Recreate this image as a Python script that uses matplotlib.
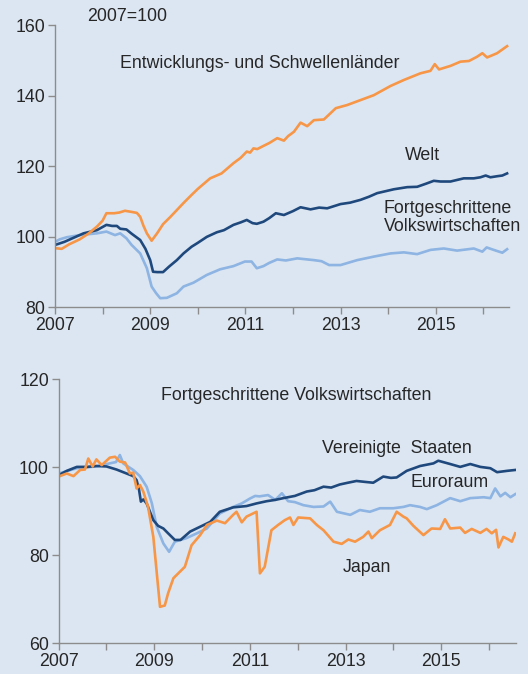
import matplotlib
matplotlib.use("Agg")
import matplotlib.pyplot as plt

plt.rcParams['font.family'] = ['Liberation Sans', 'DejaVu Sans']

# ---------------- data (index, 2007=100) ----------------
# Top panel
em_x = [2007.0, 2007.14, 2007.3, 2007.52, 2007.7, 2007.88, 2008.0, 2008.08, 2008.24, 2008.35, 2008.47, 2008.6,
        2008.72, 2008.79, 2008.86, 2008.93, 2009.03, 2009.15, 2009.27, 2009.42, 2009.56, 2009.7, 2009.87, 2010.0,
        2010.26, 2010.5, 2010.75, 2010.9, 2011.03, 2011.1, 2011.17, 2011.25, 2011.38, 2011.5, 2011.67, 2011.81,
        2011.9, 2012.02, 2012.16, 2012.3, 2012.44, 2012.65, 2012.9, 2013.14, 2013.42, 2013.7, 2014.05, 2014.33,
        2014.68, 2014.89, 2014.98, 2015.07, 2015.31, 2015.52, 2015.7, 2015.87, 2015.98, 2016.08, 2016.29, 2016.5]
em_y = [96.7, 96.5, 97.8, 99.2, 100.8, 102.8, 104.5, 106.6, 106.6, 106.8, 107.3, 107.0,
        106.7, 105.6, 103.0, 100.9, 98.8, 101.0, 103.5, 105.5, 107.5, 109.5, 111.8, 113.5,
        116.5, 117.9, 120.8, 122.3, 124.1, 123.8, 125.0, 124.8, 125.7, 126.5, 127.9, 127.2,
        128.5, 129.7, 132.3, 131.3, 133.0, 133.2, 136.4, 137.3, 138.7, 140.1, 142.7, 144.4,
        146.3, 147.0, 148.9, 147.4, 148.4, 149.6, 149.8, 151.0, 152.0, 150.8, 152.0, 154.0]

world_x = [2007.0, 2007.2, 2007.4, 2007.6, 2007.88, 2008.08, 2008.2, 2008.3, 2008.37, 2008.5, 2008.61, 2008.79,
           2008.9, 2009.0, 2009.06, 2009.15, 2009.27, 2009.4, 2009.56, 2009.7, 2009.87, 2010.0, 2010.19, 2010.4,
           2010.55, 2010.75, 2010.9, 2011.03, 2011.15, 2011.24, 2011.38, 2011.5, 2011.64, 2011.81, 2012.0, 2012.16,
           2012.37, 2012.55, 2012.72, 2013.0, 2013.2, 2013.42, 2013.6, 2013.77, 2014.12, 2014.4, 2014.61, 2014.8,
           2014.96, 2015.1, 2015.31, 2015.59, 2015.8, 2015.94, 2016.05, 2016.15, 2016.29, 2016.4, 2016.5]
world_y = [97.6, 98.5, 99.7, 100.9, 101.8, 103.3, 103.0, 103.0, 102.2, 102.0, 100.8, 99.0,
           96.5, 93.3, 90.0, 89.9, 89.9, 91.5, 93.3, 95.2, 97.1, 98.2, 99.9, 101.2,
           101.8, 103.3, 104.0, 104.7, 103.8, 103.6, 104.2, 105.2, 106.6, 106.1, 107.2, 108.3,
           107.7, 108.2, 108.0, 109.2, 109.6, 110.4, 111.3, 112.3, 113.4, 114.0, 114.1, 115.0,
           115.8, 115.6, 115.6, 116.5, 116.5, 116.8, 117.3, 116.8, 117.1, 117.3, 117.9]

adv_x = [2007.0, 2007.1, 2007.25, 2007.52, 2007.88, 2008.08, 2008.26, 2008.37, 2008.5, 2008.61, 2008.79, 2008.93,
         2009.03, 2009.12, 2009.21, 2009.35, 2009.56, 2009.7, 2009.91, 2010.19, 2010.47, 2010.75, 2010.99, 2011.13,
         2011.24, 2011.38, 2011.5, 2011.67, 2011.85, 2012.09, 2012.44, 2012.6, 2012.76, 2013.0, 2013.35, 2013.7,
         2014.05, 2014.33, 2014.61, 2014.89, 2015.17, 2015.45, 2015.8, 2015.98, 2016.07, 2016.22, 2016.4, 2016.5]
adv_y = [98.5, 99.2, 99.8, 100.4, 100.9, 101.4, 100.4, 100.9, 99.5, 97.6, 95.2, 91.0,
         85.8, 84.0, 82.5, 82.6, 83.9, 85.8, 86.9, 89.1, 90.7, 91.6, 92.9, 92.9,
         91.0, 91.6, 92.5, 93.5, 93.2, 93.8, 93.3, 93.0, 91.9, 91.9, 93.3, 94.3,
         95.2, 95.5, 95.0, 96.2, 96.6, 96.0, 96.6, 95.7, 96.9, 96.2, 95.4, 96.4]

# Bottom panel
us_x = [2007.0, 2007.17, 2007.38, 2007.59, 2007.79, 2008.0, 2008.21, 2008.42, 2008.56, 2008.63, 2008.68, 2008.72,
        2008.77, 2008.84, 2008.98, 2009.08, 2009.19, 2009.29, 2009.43, 2009.55, 2009.75, 2009.96, 2010.17, 2010.37,
        2010.65, 2010.93, 2011.14, 2011.35, 2011.53, 2011.7, 2011.94, 2012.19, 2012.35, 2012.54, 2012.7, 2012.88,
        2013.05, 2013.23, 2013.4, 2013.58, 2013.79, 2013.95, 2014.07, 2014.28, 2014.56, 2014.84, 2014.94, 2015.19,
        2015.4, 2015.61, 2015.82, 2016.03, 2016.17, 2016.38, 2016.55]
us_y = [98.2, 99.2, 100.1, 100.1, 100.3, 100.2, 99.5, 98.6, 98.0, 97.1, 95.0, 92.2,
        92.7, 91.8, 88.0, 86.7, 86.1, 85.0, 83.5, 83.5, 85.4, 86.5, 87.6, 89.9,
        90.9, 91.2, 91.8, 92.3, 92.6, 93.0, 93.5, 94.5, 94.8, 95.6, 95.4, 96.1,
        96.5, 96.9, 96.7, 96.5, 97.9, 97.6, 97.7, 99.2, 100.3, 100.9, 101.5, 100.75,
        100.1, 100.75, 100.1, 99.8, 98.9, 99.2, 99.4]

euro_x = [2007.0, 2007.38, 2007.79, 2008.07, 2008.2, 2008.28, 2008.35, 2008.56, 2008.70, 2008.84, 2008.95, 2009.05,
          2009.19, 2009.31, 2009.43, 2009.67, 2009.89, 2010.1, 2010.37, 2010.65, 2010.83, 2011.0, 2011.11, 2011.2,
          2011.38, 2011.53, 2011.67, 2011.8, 2011.94, 2012.12, 2012.33, 2012.54, 2012.68, 2012.82, 2013.1, 2013.3,
          2013.51, 2013.72, 2014.0, 2014.21, 2014.35, 2014.56, 2014.70, 2014.91, 2015.19, 2015.4, 2015.61, 2015.89,
          2016.03, 2016.13, 2016.24, 2016.34, 2016.45, 2016.55]
euro_y = [98.6, 99.8, 100.2, 100.9, 101.2, 102.8, 100.9, 99.4, 98.0, 95.6, 91.8, 86.5,
          82.7, 80.8, 83.1, 83.9, 85.0, 86.1, 89.5, 91.0, 91.8, 92.9, 93.5, 93.4,
          93.7, 92.6, 94.1, 92.3, 92.1, 91.4, 91.0, 91.1, 92.2, 89.9, 89.2, 90.3,
          89.9, 90.7, 90.7, 91.0, 91.4, 91.0, 90.5, 91.4, 93.0, 92.3, 93.0, 93.2,
          93.0, 95.2, 93.4, 94.2, 93.2, 93.9]

jp_x = [2007.0, 2007.17, 2007.31, 2007.45, 2007.55, 2007.62, 2007.71, 2007.79, 2007.9, 2008.07, 2008.18, 2008.28,
        2008.39, 2008.49, 2008.56, 2008.63, 2008.70, 2008.77, 2008.87, 2008.98, 2009.12, 2009.22, 2009.29, 2009.40,
        2009.64, 2009.78, 2009.96, 2010.10, 2010.31, 2010.48, 2010.65, 2010.72, 2010.83, 2010.93, 2011.14, 2011.21,
        2011.31, 2011.45, 2011.59, 2011.73, 2011.84, 2011.91, 2012.01, 2012.26, 2012.40, 2012.54, 2012.75, 2012.92,
        2013.06, 2013.20, 2013.37, 2013.48, 2013.55, 2013.72, 2013.93, 2014.07, 2014.21, 2014.28, 2014.42, 2014.63,
        2014.80, 2014.98, 2015.08, 2015.19, 2015.40, 2015.50, 2015.64, 2015.82, 2015.95, 2016.06, 2016.15, 2016.20,
        2016.30, 2016.41, 2016.48, 2016.55]
jp_y = [97.9, 98.6, 98.0, 99.4, 99.5, 102.0, 100.2, 101.8, 100.5, 102.2, 102.4, 101.3,
        101.1, 98.6, 98.8, 95.2, 96.0, 94.5, 91.0, 84.2, 68.3, 68.6, 71.4, 74.8,
        77.4, 82.3, 84.6, 86.9, 87.9, 87.3, 89.2, 89.9, 87.5, 88.8, 89.9, 75.9,
        77.4, 85.7, 86.9, 88.0, 88.6, 86.9, 88.6, 88.4, 86.9, 85.7, 83.1, 82.6,
        83.6, 83.1, 84.2, 85.4, 83.9, 85.7, 86.9, 89.9, 88.8, 88.4, 86.7, 84.6,
        86.1, 86.0, 88.2, 86.1, 86.3, 85.1, 86.0, 85.1, 86.0, 85.0, 85.8, 81.8,
        84.2, 83.6, 83.1, 85.0]

for a, b in [(em_x, em_y), (world_x, world_y), (adv_x, adv_y), (us_x, us_y), (euro_x, euro_y), (jp_x, jp_y)]:
    assert len(a) == len(b), (len(a), len(b))

year_ticks = list(range(2007, 2017))
year_labels = [str(y) if y % 2 == 1 else "" for y in year_ticks]

# ---------------- style ----------------
BG = "#dce6f2"
ORANGE = "#f79646"
DARK = "#1f497d"
LIGHT = "#8db4e2"
SPINE = "#8c8c8c"
TXT = "#262626"
FS = 12.8
LW = 1.9

fig = plt.figure(figsize=(5.28, 6.74), dpi=100, facecolor=BG)
ax1 = fig.add_axes([0.1042, 0.5445, 0.8598, 0.4184])
ax2 = fig.add_axes([0.1111, 0.0455, 0.8656, 0.3917])

def style(ax, ylim, yticks):
    ax.set_facecolor(BG)
    for s in ["top", "right"]:
        ax.spines[s].set_visible(False)
    for s in ["left", "bottom"]:
        ax.spines[s].set_color(SPINE)
        ax.spines[s].set_linewidth(1.0)
    ax.set_ylim(*ylim)
    ax.set_yticks(yticks)
    ax.set_xticks(year_ticks)
    ax.set_xticklabels(year_labels)
    ax.tick_params(axis="both", colors=SPINE, labelcolor=TXT, labelsize=FS, length=5, width=1.0, direction="out")
    ax.tick_params(axis="x", pad=2)
    ax.tick_params(axis="y", pad=2)

# Top panel
ax1.plot(adv_x, adv_y, color=LIGHT, lw=LW, solid_joinstyle="round")
ax1.plot(world_x, world_y, color=DARK, lw=LW, solid_joinstyle="round")
ax1.plot(em_x, em_y, color=ORANGE, lw=LW, solid_joinstyle="round")
ax1.set_xlim(2007, 2016.54)
style(ax1, (80, 160), [80, 100, 120, 140, 160])

ax1.text(2007.67, 162.3, "2007=100", fontsize=FS, color=TXT, ha="left", va="center", clip_on=False)
ax1.text(2011.31, 149.2, "Entwicklungs- und Schwellenländer", fontsize=FS, color=TXT, ha="center", va="center")
ax1.text(2014.73, 123.0, "Welt", fontsize=FS, color=TXT, ha="center", va="center")
ax1.text(2013.91, 105.4, "Fortgeschrittene\nVolkswirtschaften", fontsize=FS, color=TXT, ha="left", va="center",
         linespacing=1.05, clip_on=False)

# Bottom panel
ax2.plot(euro_x, euro_y, color=LIGHT, lw=LW, solid_joinstyle="round")
ax2.plot(us_x, us_y, color=DARK, lw=LW, solid_joinstyle="round")
ax2.plot(jp_x, jp_y, color=ORANGE, lw=LW, solid_joinstyle="round")
ax2.set_xlim(2007, 2016.56)
style(ax2, (60, 120), [60, 80, 100, 120])

ax2.text(2011.97, 116.4, "Fortgeschrittene Volkswirtschaften", fontsize=FS, color=TXT, ha="center", va="center")
ax2.text(2014.08, 104.2, "Vereinigte  Staaten", fontsize=FS, color=TXT, ha="center", va="center")
ax2.text(2015.18, 96.5, "Euroraum", fontsize=FS, color=TXT, ha="center", va="center")
ax2.text(2013.44, 77.2, "Japan", fontsize=FS, color=TXT, ha="center", va="center")

fig.savefig("out.png", dpi=100, facecolor=BG)
